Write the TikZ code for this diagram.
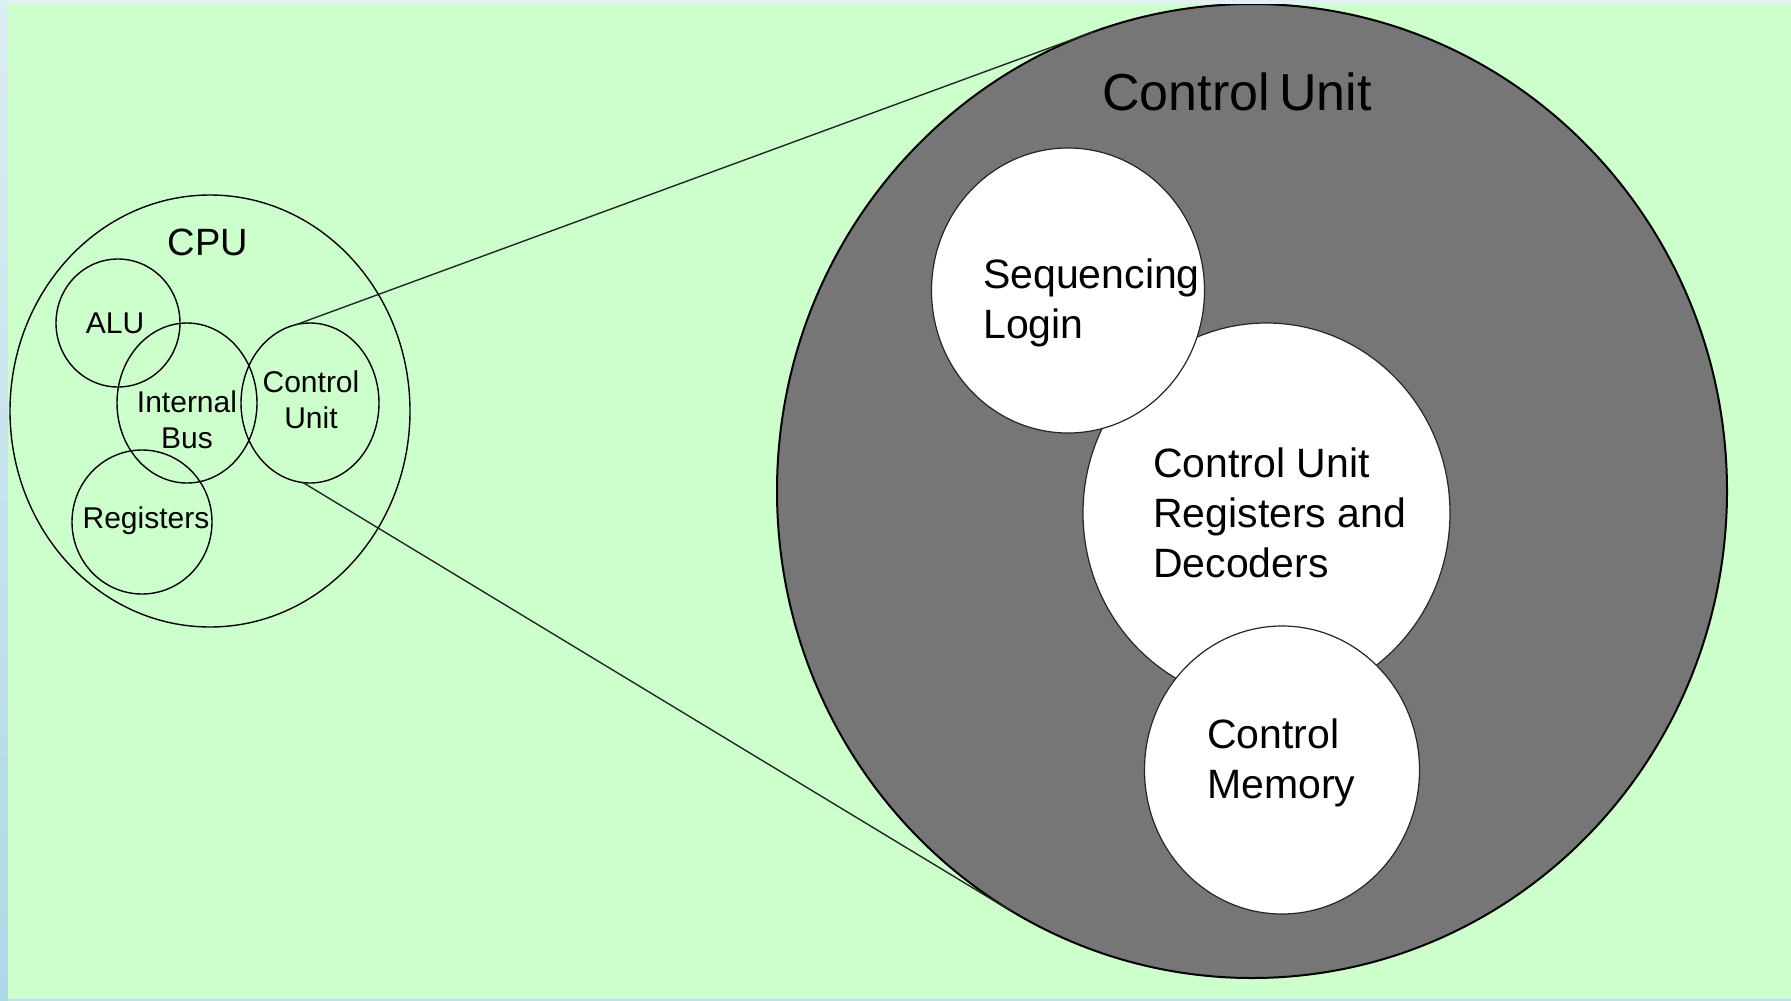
\documentclass[tikz,border=0pt]{standalone}
\usepackage{fontspec}
\setmainfont{Liberation Sans}
\usetikzlibrary{shapes.geometric}
\definecolor{bggreen}{HTML}{CCFFCC}
\definecolor{hatchgray}{HTML}{767676}
\definecolor{stripblue}{HTML}{ADD8E6}
\definecolor{striptop}{HTML}{DCEDF3}
\definecolor{striplight}{HTML}{E3F0F4}
\begin{document}
\begin{tikzpicture}[x=1pt,y=-1pt,
  ring/.style={ellipse, draw=black, line width=1.4pt, inner sep=0pt, outer sep=0pt},
  part/.style={ring, fill=white, draw=black!85, line width=1.2pt},
  smalllabel/.style={font=\fontsize{30}{36}\selectfont, align=center, inner sep=0pt},
  biglabel/.style={font=\fontsize{41}{50}\selectfont, align=left, inner sep=0pt, anchor=north west},
  link/.style={draw=black!85, line width=1.4pt}]
\useasboundingbox (0,0) rectangle (1791,1001);
\fill[bggreen] (0,0) rectangle (1791,1001);

% CPU overview
\node[ring, minimum width=400pt, minimum height=432pt] (cpu) at (210,411) {};
\node[ring, minimum width=124pt, minimum height=128pt] (alu) at (118,323) {};
\node[ring, minimum width=140pt, minimum height=160pt] (bus) at (187,403) {};
\node[ring, minimum width=138pt, minimum height=160pt] (cu) at (310,403) {};
\node[ring, minimum width=140pt, minimum height=144pt] (reg) at (142,522) {};

\node[anchor=base, inner sep=0pt, font=\fontsize{38}{44}\selectfont] (cpuL) at (208,255) {CPU};
\node[smalllabel, anchor=base] (aluL) at (115,333) {ALU};
\node[smalllabel] (busL) at (187,420) {Internal\\Bus};
\node[smalllabel] (cuL) at (311,400) {Control\\Unit};
\node[smalllabel, anchor=base] (regL) at (146,528) {Registers};

% Enlarged control unit
\node[ring, fill=hatchgray, line width=2pt, minimum width=950pt, minimum height=974pt] (bigcu) at (1252,491) {};
\node[anchor=base west, inner sep=0pt, font=\fontsize{52}{60}\selectfont] (bigL) at (1102,110) {Control\hspace{-0.1em} Unit};

\node[part, minimum width=367pt, minimum height=380pt] (cur) at (1266.5,513) {};
\node[part, minimum width=273pt, minimum height=285pt] (seq) at (1068,290.5) {};
\node[part, minimum width=275pt, minimum height=288pt] (cmem) at (1282,770) {};

\node[biglabel] (seqL) at (983,259) {Sequencing\\Login};
\node[biglabel] (curL) at (1153,448) {Control Unit\\Registers and\\Decoders};
\node[biglabel] (cmemL) at (1207,719) {Control\\Memory};

% zoom lines
\coordinate (tTop) at (1093,32);
\coordinate (tBot) at (1011,911);
\draw[link] (cu.100) -- (tTop);
\draw[link] (cu.265) -- (tBot);

% frame strips
\shade[top color=striptop, bottom color=stripblue] (0,0) rectangle (8,1001);
\fill[striplight] (8,0) rectangle (1791,4);
\fill[stripblue!80] (8,999) rectangle (1791,1001);
\end{tikzpicture}
\end{document}
